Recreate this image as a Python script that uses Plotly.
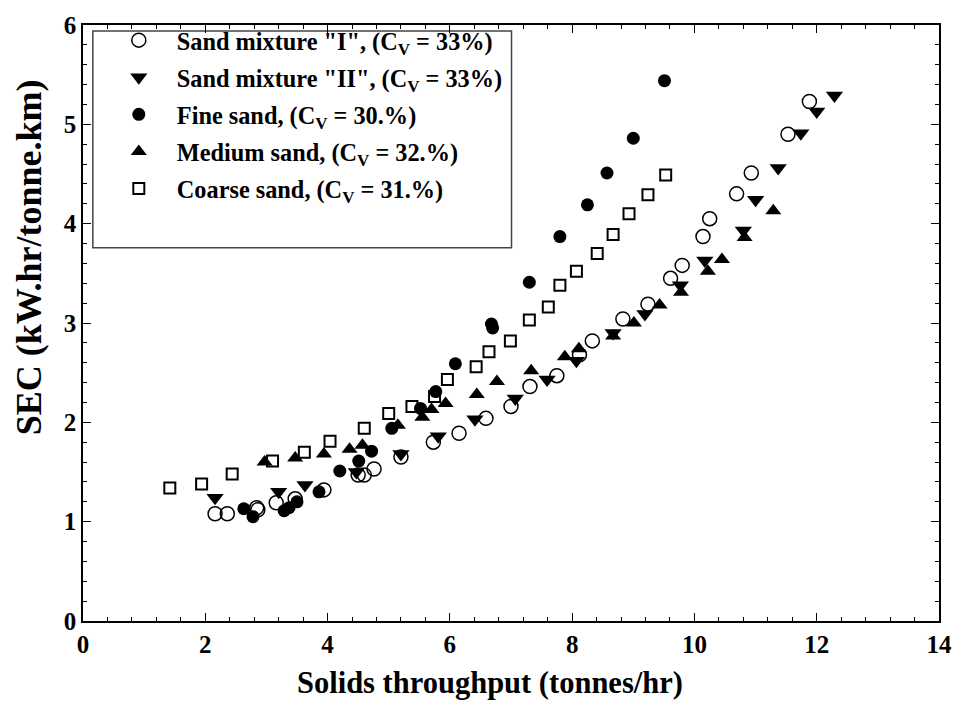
import plotly.graph_objects as go

# Sand mixture "I" (open circles)
mix1_x = [2.16, 2.36, 2.84, 2.86, 3.16, 3.47, 3.94, 4.50, 4.60, 4.76, 5.20, 5.73, 6.15, 6.59, 7.00, 7.31,
          7.75, 8.12, 8.33, 8.83, 9.24, 9.61, 9.80, 10.14, 10.25, 10.69, 10.93, 11.53, 11.88]
mix1_y = [1.08, 1.08, 1.14, 1.12, 1.19, 1.23, 1.32, 1.47, 1.47, 1.53, 1.65, 1.80, 1.89, 2.04, 2.16, 2.36,
          2.47, 2.68, 2.82, 3.04, 3.19, 3.45, 3.58, 3.87, 4.05, 4.30, 4.51, 4.90, 5.23]

# Sand mixture "II" (filled down triangles)
mix2_x = [2.16, 3.20, 3.63, 4.47, 5.20, 5.81, 6.41, 7.07, 7.59, 8.07, 8.67, 9.19, 9.77, 10.17, 10.80,
          11.00, 11.37, 11.74, 12.00, 12.29]
mix2_y = [1.24, 1.30, 1.37, 1.50, 1.68, 1.86, 2.03, 2.24, 2.43, 2.62, 2.90, 3.09, 3.38, 3.63, 3.93,
          4.24, 4.56, 4.91, 5.13, 5.29]

# Fine sand (filled circles)
fine_x = [2.63, 2.78, 3.29, 3.37, 3.50, 3.86, 4.20, 4.51, 4.72, 5.05, 5.52, 5.77, 6.09, 6.68, 6.70,
          7.30, 7.80, 8.25, 8.57, 9.00, 9.51]
fine_y = [1.13, 1.05, 1.11, 1.14, 1.20, 1.30, 1.51, 1.61, 1.71, 1.94, 2.14, 2.31, 2.59, 2.99, 2.95,
          3.41, 3.87, 4.19, 4.51, 4.86, 5.44]

# Medium sand (filled up triangles)
med_x = [2.97, 3.47, 3.94, 4.36, 4.57, 5.15, 5.55, 5.70, 5.93, 6.44, 6.77, 7.33, 7.88, 8.11, 8.67,
         9.01, 9.43, 9.78, 10.22, 10.45, 10.82, 11.29]
med_y = [1.60, 1.64, 1.68, 1.73, 1.77, 1.97, 2.05, 2.13, 2.19, 2.28, 2.41, 2.52, 2.66, 2.74, 2.87,
         3.00, 3.18, 3.31, 3.52, 3.64, 3.86, 4.13]

# Coarse sand (open squares)
coarse_x = [1.42, 1.94, 2.44, 3.10, 3.62, 4.04, 4.60, 5.00, 5.38, 5.75, 5.96, 6.43, 6.64, 6.99, 7.30,
            7.61, 7.80, 8.07, 8.41, 8.67, 8.93, 9.24, 9.53]
coarse_y = [1.34, 1.38, 1.48, 1.61, 1.70, 1.81, 1.94, 2.09, 2.16, 2.26, 2.43, 2.56, 2.71, 2.82, 3.03,
            3.16, 3.38, 3.52, 3.70, 3.89, 4.10, 4.29, 4.49]

names = ['Sand mixture "I", (C<sub>V</sub> = 33%)',
         'Sand mixture "II", (C<sub>V</sub> = 33%)',
         'Fine sand, (C<sub>V</sub> = 30.%)',
         'Medium sand, (C<sub>V</sub> = 32.%)',
         'Coarse sand, (C<sub>V</sub> = 31.%)']

x_ticks = [0, 2, 4, 6, 8, 10, 12, 14]
y_ticks = [0, 1, 2, 3, 4, 5, 6]
x_title = "Solids throughput (tonnes/hr)"
y_title = "SEC (kW.hr/tonne.km)"

FONT = "Liberation Serif"

fig = go.Figure()
fig.add_trace(go.Scatter(x=mix1_x, y=mix1_y, mode="markers", name=names[0], legendgroup="a",
                         marker=dict(symbol="circle-open", size=14, color="black", line=dict(width=1.5))))
fig.add_trace(go.Scatter(x=mix2_x, y=mix2_y, mode="markers", name=names[1], legendgroup="b",
                         marker=dict(symbol="triangle-down", size=15, color="black")))
fig.add_trace(go.Scatter(x=fine_x, y=fine_y, mode="markers", name=names[2], legendgroup="c",
                         marker=dict(symbol="circle", size=13, color="black")))
fig.add_trace(go.Scatter(x=med_x, y=med_y, mode="markers", name=names[3], legendgroup="d",
                         marker=dict(symbol="triangle-up", size=14, color="black")))
fig.add_trace(go.Scatter(x=coarse_x, y=coarse_y, mode="markers", name=names[4], legendgroup="e",
                         marker=dict(symbol="square-open", size=11, color="black", line=dict(width=2))))

axis_common = dict(showline=True, linecolor="black", linewidth=1.5, mirror="allticks",
                   ticks="inside", ticklen=8, tickwidth=1, tickcolor="black",
                   showgrid=False, zeroline=False, tickmode="array",
                   tickfont=dict(family=FONT, size=25, color="black", weight="bold"))

fig.update_xaxes(range=[0, 14], tickvals=x_ticks, ticktext=[f"<b>{v}</b>" for v in x_ticks],
                 minor=dict(dtick=0.4, tick0=0, ticks="inside", ticklen=4, tickcolor="black", showgrid=False),
                 **axis_common)
fig.update_yaxes(range=[0, 6], tickvals=y_ticks, ticktext=[f"<b>{v}</b>" for v in y_ticks],
                 minor=dict(dtick=0.2, tick0=0, ticks="inside", ticklen=4, tickcolor="black", showgrid=False),
                 **axis_common)

# legend frame
fig.add_shape(type="rect", xref="paper", yref="paper", x0=0.0115, x1=0.5006, y0=0.6264, y1=0.990,
              line=dict(color="#444", width=1.5), fillcolor="white", layer="below")

fig.add_annotation(text=f"<b>{x_title}</b>", xref="paper", yref="paper", x=(495 - 83) / 867,
                   y=-(684 - 621) / 605, xanchor="center", yanchor="middle", showarrow=False,
                   font=dict(family=FONT, size=30.5, color="black"))
fig.add_annotation(text=f"<b>{y_title}</b>", xref="paper", yref="paper", x=-(83 - 29) / 867,
                   y=(621 - 252) / 605, xanchor="center", yanchor="middle", showarrow=False,
                   textangle=-90, font=dict(family=FONT, size=36, color="black"))

fig.update_layout(
    width=964, height=716,
    margin=dict(l=83, r=14, t=16, b=95),
    plot_bgcolor="white", paper_bgcolor="white",
    font=dict(family=FONT, color="black"),
    showlegend=True,
    legend=dict(x=0.0208, y=1.012, xanchor="left", yanchor="top",
                bgcolor="rgba(0,0,0,0)", borderwidth=0,
                font=dict(family=FONT, size=24.3, color="black", weight="bold"),
                tracegroupgap=2.5, itemwidth=66, itemsizing="trace"),
)

fig.write_html("out.html")
